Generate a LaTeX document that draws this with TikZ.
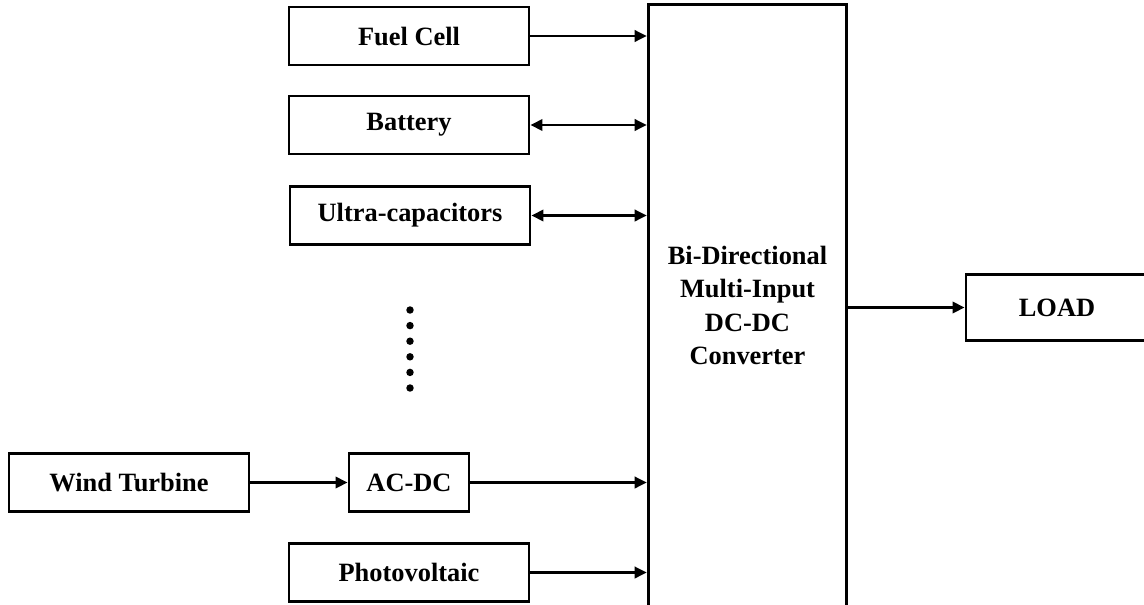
\documentclass[tikz,border=0pt]{standalone}
\usepackage{fontspec}
\setmainfont{Liberation Serif}
\usetikzlibrary{positioning,arrows.meta}

\begin{document}
\begin{tikzpicture}[x=0.75pt,y=-0.75pt,
  blk/.style={rectangle,draw=black,line width=2.2pt,align=center,inner sep=0pt,font=\bfseries\fontsize{19.8}{25}\selectfont},
  src/.style={blk,minimum width=180pt,minimum height=43.5pt},
  arr/.style={-{Triangle[length=9pt,width=8.5pt]},line width=1.9pt},
  biarr/.style={{Triangle[length=9pt,width=8.5pt]}-{Triangle[length=9pt,width=8.5pt]},line width=1.9pt}
]
\useasboundingbox (0,0) rectangle (1144,604);
\node[blk,minimum width=149pt,minimum height=451pt] (conv) at (747.5,305.5) {Bi-Directional\\Multi-Input\\DC-DC\\Converter};
\node[src] (fuel) at (409,36) {Fuel Cell};
\node[src] (batt) at (409,125) {Battery};
\node[src] (ucap) at (410,215.5) {Ultra-capacitors};
\node[src] (wind) at (129,482.5) {Wind Turbine};
\node[blk,minimum width=90pt,minimum height=43.5pt] (acdc) at (409,482.5) {AC-DC};
\node[src] (pv) at (409,572.5) {Photovoltaic};
\node[blk,minimum width=136.5pt,minimum height=50pt] (load) at (1057,307.5) {LOAD};
\foreach \k in {0,...,5}
  \fill (410,310+15.6*\k) circle (2.8pt);
\draw[arr] (fuel.east) -- (fuel.east -| conv.west);
\draw[biarr] (batt.east) -- (batt.east -| conv.west);
\draw[biarr] (ucap.east) -- (ucap.east -| conv.west);
\draw[arr] (wind.east) -- (acdc.west);
\draw[arr] (acdc.east) -- (acdc.east -| conv.west);
\draw[arr] (pv.east) -- (pv.east -| conv.west);
\draw[arr] (conv.east |- load.west) -- (load.west);
\end{tikzpicture}
\end{document}
